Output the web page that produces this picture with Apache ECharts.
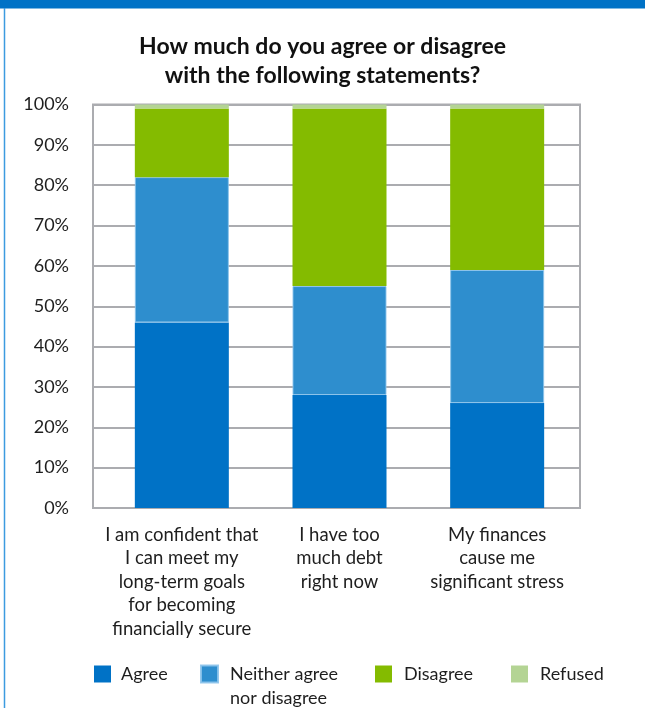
<!DOCTYPE html>
<html>
<head>
<meta charset="utf-8">
<script src="https://cdn.jsdelivr.net/npm/echarts@6/dist/echarts.min.js"></script>
<style>
  html, body { margin: 0; padding: 0; background: #fff; }
  #chart { width: 645px; height: 708px; }
</style>
</head>
<body>
<div id="chart"></div>
<script>
// Survey statements shown along the x axis
const categories = [
  'I am confident that\nI can meet my\nlong-term goals\nfor becoming\nfinancially secure',
  'I have too\nmuch debt\nright now',
  'My finances\ncause me\nsignificant stress'
];
// Share of respondents per answer (percent)
const agree    = [46, 28, 26];
const neither  = [36, 27, 33];
const disagree = [17, 44, 40];
const refused  = [1, 1, 1];

const seriesNames = ['Agree', 'Neither agree nor disagree', 'Disagree', 'Refused'];
const colors = ['#0072C6', '#2E8ECE', '#84BB00', '#B4D494'];

const FONT = 'Lato, "Open Sans", sans-serif';
const TEXT = '#1e1e1e';
const GRIDC = '#abacb0';

const plotTop = 104.5, plotBottom = 708 - 508;

const chart = echarts.init(document.getElementById('chart'), null, { renderer: 'canvas' });

function legendAt(idx, left, top, extra) {
  return Object.assign({
    left: left, top: top, padding: 0,
    itemWidth: 17, itemHeight: 17, itemGap: 0,
    icon: 'rect',
    selectedMode: false,
    data: [{ name: seriesNames[idx], itemStyle: { color: colors[idx] } }],
    textStyle: { fontFamily: FONT, fontSize: 18, color: TEXT, padding: [0, 0, 0, 5] }
  }, extra || {});
}

const legendLine = { fontFamily: FONT, fontSize: 18, color: TEXT, lineHeight: 24 };

chart.setOption({
  animation: false,
  color: colors,
  title: {
    text: 'How much do you agree or disagree\nwith the following statements?',
    left: 'center', top: 27,
    textStyle: { fontFamily: FONT, fontWeight: 'bold', fontSize: 23, lineHeight: 29, color: '#111' }
  },
  graphic: [
    { type: 'rect', shape: { x: 0, y: 0, width: 645, height: 8.5 }, style: { fill: '#0072C6' }, silent: true },
    { type: 'line', shape: { x1: 4.5, y1: 8, x2: 4.5, y2: 708 }, style: { stroke: '#3C9BE0', lineWidth: 1.5 }, silent: true }
  ],
  legend: [
    legendAt(0, 94, 665),
    // two-line label: a blank leading line keeps "Neither agree" level with the square
    legendAt(1, 200, 641, {
      formatter: () => '{p| }\n{t|Neither agree}\n{t|nor disagree}',
      textStyle: {
        fontFamily: FONT, fontSize: 18, color: TEXT, padding: [0, 0, 0, 7],
        rich: { p: legendLine, t: legendLine }
      }
    }),
    legendAt(2, 375, 665, { textStyle: { fontFamily: FONT, fontSize: 18, color: TEXT, padding: [0, 0, 0, 7] } }),
    legendAt(3, 511, 665, { textStyle: { fontFamily: FONT, fontSize: 18, color: TEXT, padding: [0, 0, 0, 7] } })
  ],
  grid: [
    // frame with the percent gridlines
    { left: 93, right: 65, top: plotTop, bottom: plotBottom, show: true, borderColor: GRIDC, borderWidth: 2, backgroundColor: 'transparent' },
    // stacked bars
    { left: 103, right: 69, top: plotTop, bottom: plotBottom }
  ],
  xAxis: [
    { gridIndex: 0, type: 'category', data: ['', '', ''], show: false },
    {
      gridIndex: 1, type: 'category', data: categories,
      axisLine: { show: false }, axisTick: { show: false },
      axisLabel: { interval: 0, margin: 15, fontFamily: FONT, fontSize: 18.5, lineHeight: 23.5, color: TEXT, align: 'center' }
    }
  ],
  yAxis: [
    {
      gridIndex: 0, type: 'value', min: 0, max: 100, interval: 10,
      axisLine: { show: false }, axisTick: { show: false },
      splitLine: { lineStyle: { color: GRIDC, width: 2 } },
      axisLabel: { margin: 24, fontFamily: FONT, fontSize: 18, color: TEXT, formatter: '{value}%' }
    },
    { gridIndex: 1, type: 'value', min: 0, max: 100, show: false, splitLine: { show: false } }
  ],
  series: [
    { name: seriesNames[0], type: 'bar', stack: 's', xAxisIndex: 1, yAxisIndex: 1, barWidth: 94, data: agree },
    { name: seriesNames[1], type: 'bar', stack: 's', xAxisIndex: 1, yAxisIndex: 1, barWidth: 94, data: neither,
      itemStyle: { borderColor: 'rgba(140,195,235,0.9)', borderWidth: 1 } },
    { name: seriesNames[2], type: 'bar', stack: 's', xAxisIndex: 1, yAxisIndex: 1, barWidth: 94, data: disagree },
    { name: seriesNames[3], type: 'bar', stack: 's', xAxisIndex: 1, yAxisIndex: 1, barWidth: 94, data: refused }
  ]
});
</script>
</body>
</html>
